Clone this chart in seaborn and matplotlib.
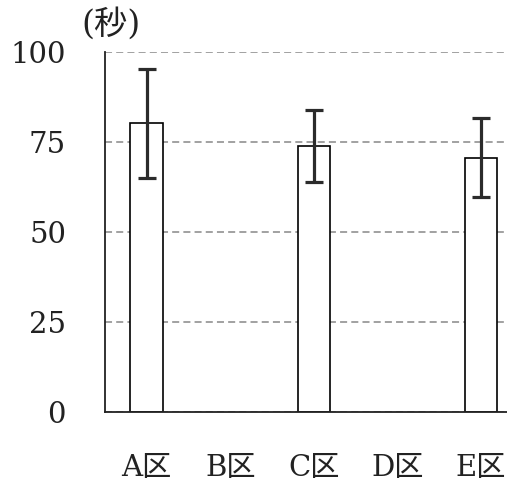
import numpy as np
import pandas as pd
import matplotlib
matplotlib.use("Agg")
import matplotlib.pyplot as plt
import seaborn as sns

# Mean times per district (seconds); B and D have no measurement
categories = ["A区", "B区", "C区", "D区", "E区"]
means = [80.2, np.nan, 73.9, np.nan, 70.7]
errors = [15.2, np.nan, 10.1, np.nan, 11.0]
y_ticks = [0, 25, 50, 75, 100]

sns.set_theme(style="white")
fonts = ["DejaVu Serif", "Noto Sans CJK JP"]
plt.rcParams["font.family"] = fonts

df = pd.DataFrame({"district": categories, "seconds": means})

fig = plt.figure(figsize=(5.07, 4.83), dpi=100)
ax = fig.add_axes([0.207, 0.147, 0.793, 0.745])

sns.barplot(data=df, x="district", y="seconds", order=categories,
            color="white", edgecolor="black", linewidth=1.2,
            width=0.39, errorbar=None, ax=ax)

# error bars centred on each bar
xpos = np.arange(len(categories))
ax.errorbar(xpos, means, yerr=errors, fmt="none", ecolor="#2b2b2b",
            elinewidth=2.3, capsize=6.5, capthick=2.3, zorder=5)

ax.set_ylim(0, 100)
ax.set_xlim(-0.5, 4.31)
ax.set_yticks(y_ticks)
ax.yaxis.grid(True, color="#9a9a9a", linestyle=(0, (3.9, 2.3)), linewidth=1.3)
ax.set_axisbelow(True)

for side in ["top", "right"]:
    ax.spines[side].set_visible(False)
for side in ["left", "bottom"]:
    ax.spines[side].set_color("#222222")
    ax.spines[side].set_linewidth(1.3)

ax.tick_params(axis="y", length=0, pad=28, labelsize=21, labelcolor="#222222")
ax.tick_params(axis="x", length=0, pad=30, labelsize=21, labelcolor="#222222")
for lab in ax.get_xticklabels() + ax.get_yticklabels():
    lab.set_family(fonts)

ax.set_xlabel("")
ax.set_ylabel("")
fig.text(0.219, 0.950, "(秒)", ha="center", va="center", fontsize=24,
         family=fonts, color="#222222")

fig.savefig("out.png", dpi=100)
